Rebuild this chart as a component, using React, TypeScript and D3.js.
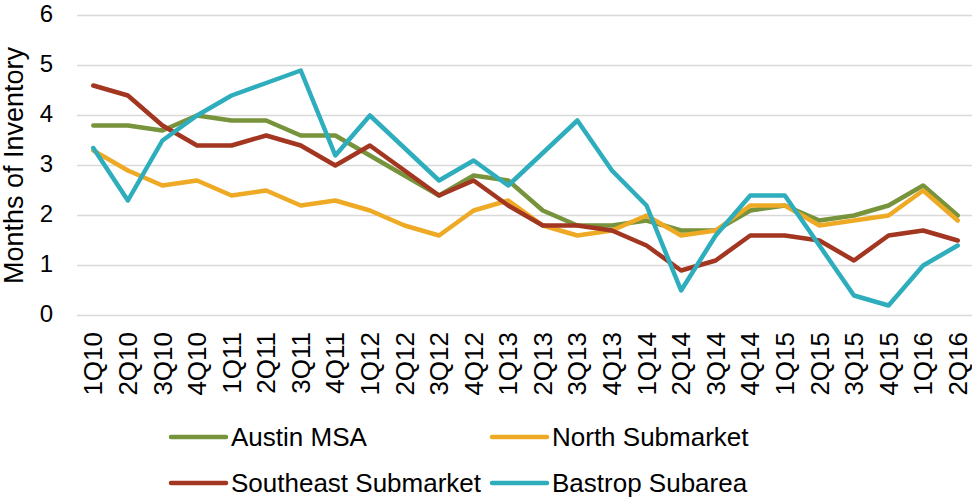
import React from "react";
import * as d3 from "d3";

const quarters = [
  "1Q10", "2Q10", "3Q10", "4Q10", "1Q11", "2Q11", "3Q11", "4Q11", "1Q12", "2Q12", "3Q12", "4Q12", "1Q13",
  "2Q13", "3Q13", "4Q13", "1Q14", "2Q14", "3Q14", "4Q14", "1Q15", "2Q15", "3Q15", "4Q15", "1Q16", "2Q16",
];

const austinMSA = [3.8, 3.8, 3.7, 4.0, 3.9, 3.9, 3.6, 3.6, 3.2, 2.8, 2.4, 2.8, 2.7, 2.1, 1.8, 1.8, 1.9, 1.7, 1.7, 2.1, 2.2, 1.9, 2.0, 2.2, 2.6, 2.0];
const northSub = [3.3, 2.9, 2.6, 2.7, 2.4, 2.5, 2.2, 2.3, 2.1, 1.8, 1.6, 2.1, 2.3, 1.8, 1.6, 1.7, 2.0, 1.6, 1.7, 2.2, 2.2, 1.8, 1.9, 2.0, 2.5, 1.9];
const southeastSub = [4.6, 4.4, 3.8, 3.4, 3.4, 3.6, 3.4, 3.0, 3.4, 2.9, 2.4, 2.7, 2.2, 1.8, 1.8, 1.7, 1.4, 0.9, 1.1, 1.6, 1.6, 1.5, 1.1, 1.6, 1.7, 1.5];
const bastrop = [3.35, 2.3, 3.5, 4.0, 4.4, 4.65, 4.9, 3.2, 4.0, 3.35, 2.7, 3.1, 2.6, 3.25, 3.9, 2.9, 2.2, 0.5, 1.6, 2.4, 2.4, 1.4, 0.4, 0.2, 1.0, 1.4];

const yTicks = [0, 1, 2, 3, 4, 5, 6];

const series = [
  { name: "Austin MSA", values: austinMSA, color: "#77933C" },
  { name: "North Submarket", values: northSub, color: "#EEAA25" },
  { name: "Southeast Submarket", values: southeastSub, color: "#A23621" },
  { name: "Bastrop Subarea", values: bastrop, color: "#2EADBD" },
];

const W = 972;
const H = 498;
const FONT = "'Liberation Sans', Arial, sans-serif";

export default function App() {
  const x = d3.scaleBand<string>().domain(quarters).range([76, 975]);
  const y = d3.scaleLinear().domain([0, 6]).range([315.5, 15.5]);
  const cx = (q: string) => (x(q) ?? 0) + x.bandwidth() / 2;

  const line = d3
    .line<number>()
    .x((_, i) => cx(quarters[i]))
    .y((d) => y(d));

  // legend: 2 columns x 2 rows
  const legendPos = [
    { x: 171, y: 437 },
    { x: 492, y: 437 },
    { x: 171, y: 483 },
    { x: 492, y: 483 },
  ];

  return (
    <svg width={W} height={H} style={{ position: "absolute", left: 0, top: 0, background: "#fff" }}>
      {yTicks.map((t) => (
        <line key={t} x1={77} x2={W} y1={y(t)} y2={y(t)} stroke="#D9D9D9" strokeWidth={1.5} />
      ))}
      {yTicks.map((t) => (
        <text key={t} x={53} y={y(t)} dy="0.29em" textAnchor="end" fontFamily={FONT} fontSize={24} fill="#000">
          {t}
        </text>
      ))}
      <text
        transform={`translate(23,${165.5}) rotate(-90)`}
        textAnchor="middle"
        fontFamily={FONT}
        fontSize={27}
        fill="#000"
      >
        Months of Inventory
      </text>
      {quarters.map((q) => (
        <text
          key={q}
          transform={`translate(${cx(q)},${332}) rotate(-90)`}
          textAnchor="end"
          dy="0.35em"
          fontFamily={FONT}
          fontSize={26}
          fill="#000"
        >
          {q}
        </text>
      ))}
      {series.map((s) => (
        <path
          key={s.name}
          d={line(s.values) ?? ""}
          fill="none"
          stroke={s.color}
          strokeWidth={4.5}
          strokeLinejoin="round"
          strokeLinecap="round"
        />
      ))}
      {series.map((s, i) => (
        <g key={s.name} transform={`translate(${legendPos[i].x},${legendPos[i].y})`}>
          <line x1={0} x2={55} y1={0} y2={0} stroke={s.color} strokeWidth={4.5} strokeLinecap="round" />
          <text x={60} dy="0.35em" fontFamily={FONT} fontSize={26} fill="#000">
            {s.name}
          </text>
        </g>
      ))}
    </svg>
  );
}
